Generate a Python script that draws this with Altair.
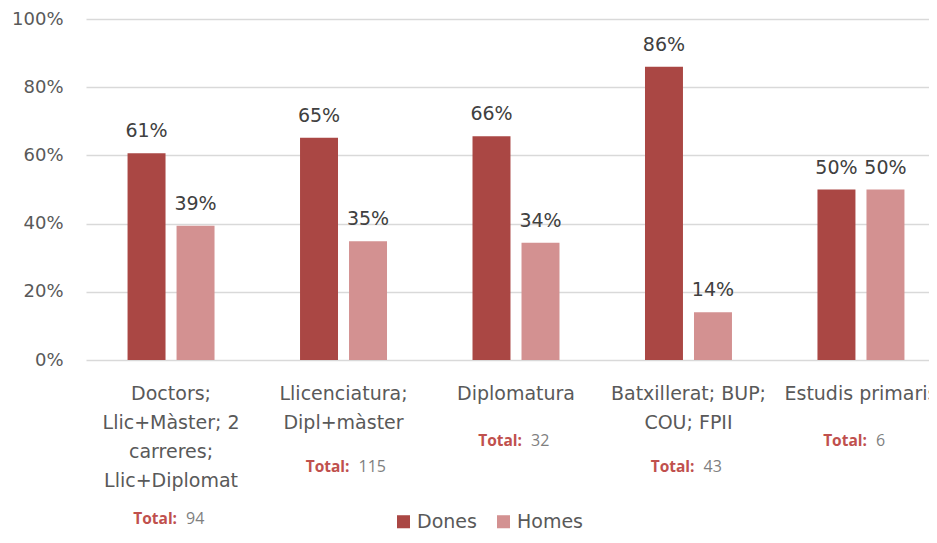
import altair as alt
import pandas as pd

categories = [
    "Doctors;\nLlic+Màster; 2\ncarreres;\nLlic+Diplomat",
    "Llicenciatura;\nDipl+màster",
    "Diplomatura",
    "Batxillerat; BUP;\nCOU; FPII",
    "Estudis primaris",
]
dones = [0.606, 0.652, 0.656, 0.860, 0.500]
homes = [0.394, 0.348, 0.344, 0.140, 0.500]
totals = [94, 115, 32, 43, 6]
series = ["Dones", "Homes"]
colors = ["#AA4744", "#D39191"]

rows = []
for c, d, h in zip(categories, dones, homes):
    rows.append({"cat": c, "sexe": "Dones", "val": d})
    rows.append({"cat": c, "sexe": "Homes", "val": h})
df = pd.DataFrame(rows)

H = 341
W = 860
tot = pd.DataFrame({
    "cat": categories,
    "total": [str(t) for t in totals],
    "lab": ["Total:"] * len(categories),
    "ty": [H + 55 + 26 * c.count("\n") + 26 for c in categories],
})

FONT = "DejaVu Sans"
xenc = alt.X(
    "cat:N", sort=categories, title=None,
    scale=alt.Scale(paddingInner=0.4957, paddingOuter=0.2409),
    axis=alt.Axis(
        labelExpr="split(datum.label, '\\n')", labelAngle=0, labelFont=FONT,
        labelFontSize=19, labelColor="#595959", labelLineHeight=29,
        labelPadding=33, ticks=False, domain=False, labelLimit=0,
        labelBaseline="middle",
    ),
)
xoff = alt.XOffset("sexe:N", sort=series, scale=alt.Scale(paddingInner=0.225, paddingOuter=0))

bars = alt.Chart(df).mark_bar().encode(
    x=xenc,
    xOffset=xoff,
    y=alt.Y("val:Q", title=None,
            scale=alt.Scale(domain=[0, 1], nice=False),
            axis=alt.Axis(format=".0%", values=[0, 0.2, 0.4, 0.6, 0.8, 1.0],
                          labelFont=FONT, labelFontSize=18, labelColor="#595959",
                          labelPadding=23, ticks=False, domain=False,
                          gridColor="#D9D9D9", gridWidth=1.5)),
    color=alt.Color("sexe:N", sort=series, title=None,
                    scale=alt.Scale(domain=series, range=colors),
                    legend=alt.Legend(orient="none", legendX=308, legendY=493,
                                      direction="horizontal", symbolType="square",
                                      symbolSize=170, symbolStrokeWidth=0,
                                      labelFont=FONT, labelFontSize=19,
                                      labelColor="#595959", columnPadding=17,
                                      symbolOffset=0)),
)

vals = alt.Chart(df).mark_text(
    baseline="bottom", dy=-12, font=FONT, fontSize=19, color="#404040"
).encode(
    x=alt.X("cat:N", sort=categories),
    xOffset=alt.XOffset("sexe:N", sort=series),
    y="val:Q",
    text=alt.Text("val:Q", format=".0%"),
)

tlab = alt.Chart(tot).mark_text(
    align="right", baseline="middle", dx=6, font="Open Sans", fontSize=15.5,
    fontWeight="bold", color="#C0504D"
).encode(
    x=alt.X("cat:N", sort=categories),
    y=alt.Y("ty:Q", scale=None),
    text="lab:N",
)
tnum = alt.Chart(tot).mark_text(
    align="left", baseline="middle", dx=15, font="Open Sans", fontSize=16,
    color="#7F7F7F"
).encode(
    x=alt.X("cat:N", sort=categories),
    y=alt.Y("ty:Q", scale=None),
    text="total:N",
)

chart = alt.layer(bars, vals, tlab, tnum).properties(
    width=W, height=H,
    autosize=alt.AutoSizeParams(type="none"),
    padding={"left": 78, "top": 11, "right": -17, "bottom": 171},
).configure_view(stroke=None)

chart.save("out.html", embed_options={"renderer": "svg", "actions": False})
